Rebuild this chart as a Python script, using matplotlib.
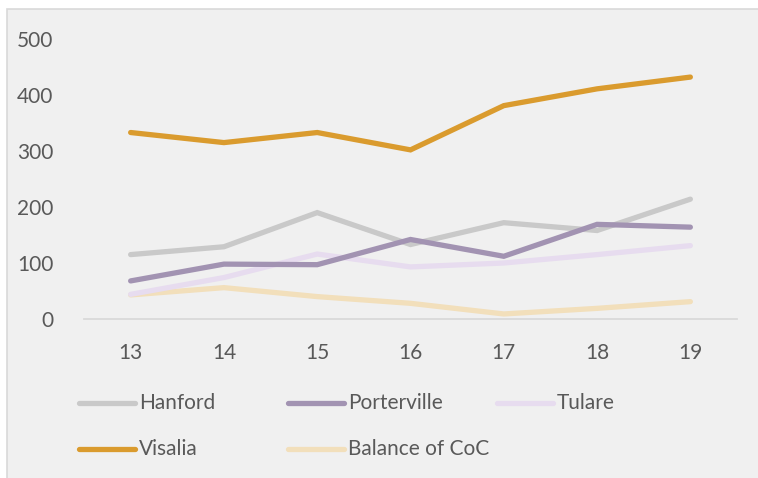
import matplotlib.pyplot as plt
import matplotlib.patches as patches
from matplotlib.lines import Line2D

# -------------- データ ------------------
years = [13, 14, 15, 16, 17, 18, 19]
series_names = ["Hanford", "Porterville", "Tulare", "Visalia", "Balance of CoC"]
hanford = [115, 129, 190, 133, 172, 158, 214]
porterville = [68, 98, 97, 142, 112, 169, 164]
tulare = [44, 74, 116, 93, 100, 115, 131]
visalia = [333, 315, 333, 302, 381, 411, 432]
balance = [43, 56, 40, 28, 9, 19, 31]
yticks = [0, 100, 200, 300, 400, 500]

colors = ["#c9c9c9", "#a293b2", "#e7dcef", "#da9b2e", "#f2dfbb"]
values = [hanford, porterville, tulare, visalia, balance]
# 描画順
draw_order = [4, 2, 0, 1, 3]

plt.rcParams['font.family'] = ['Lato', 'DejaVu Sans']
text_color = "#595959"
fsize = 15

fig = plt.figure(figsize=(7.58, 4.78), dpi=100)
fig.set_facecolor("white")

# チャート領域の背景
bg = patches.Rectangle((7 / 758, -0.1), 1.1, 1 - 9 / 478 + 0.1,
                       transform=fig.transFigure, facecolor="#f0f0f0",
                       edgecolor="#d9d9d9", linewidth=1.2, zorder=-10)
fig.patches.append(bg)

ax = fig.add_axes([84 / 758, 1 - 319 / 478, (737 - 84) / 758, (319 - 39) / 478])
ax.set_facecolor("none")
ax.set_zorder(1)

for i in draw_order:
    ax.plot(years, values[i], color=colors[i], linewidth=3.8,
            solid_capstyle="round", solid_joinstyle="miter", label=series_names[i])

ax.set_xlim(12.5, 19.5)
ax.set_ylim(0, 500)
ax.set_xticks(years)
ax.set_yticks(yticks)
ax.tick_params(axis="both", length=0, labelsize=fsize, labelcolor=text_color)
ax.tick_params(axis="y", pad=22)
ax.tick_params(axis="x", pad=17)

for s in ["top", "right", "left"]:
    ax.spines[s].set_visible(False)
ax.spines["bottom"].set_color("#d9d9d9")
ax.spines["bottom"].set_linewidth(1.3)

# -------------- 凡例 (Excel 風の等間隔配置) ------------------
col_x = [79, 288, 497]
row_y = [403, 449]
handle_len = 56
for k, name in enumerate(series_names):
    r, c = divmod(k, 3)
    x0 = col_x[c] / 758
    x1 = (col_x[c] + handle_len) / 758
    y = 1 - row_y[r] / 478
    fig.add_artist(Line2D([x0, x1], [y, y], transform=fig.transFigure,
                          color=colors[k], linewidth=3.8, solid_capstyle="round"))
    fig.text((col_x[c] + handle_len + 4) / 758, y, name, fontsize=fsize,
             color=text_color, va="center", ha="left")

plt.savefig("out.png", dpi=100, facecolor=fig.get_facecolor())
